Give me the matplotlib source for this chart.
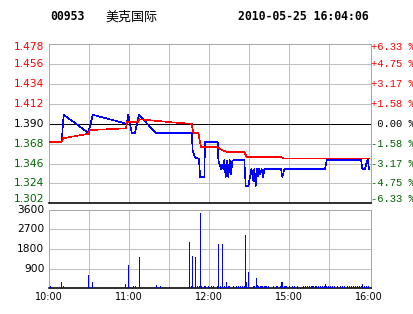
import matplotlib
matplotlib.use("Agg")
import matplotlib.pyplot as plt
from matplotlib.transforms import blended_transform_factory, ScaledTranslation

# ---------------- data ----------------
stock_code = "00953"
stock_name = "美克国际"
stamp = "2010-05-25 16:04:06"
prev_close = 1.390

price_ticks = [1.478, 1.456, 1.434, 1.412, 1.390, 1.368, 1.346, 1.324, 1.302]
pct_labels = ["+6.33 %", "+4.75 %", "+3.17 %", "+1.58 %", " 0.00 %",
              "-1.58 %", "-3.17 %", "-4.75 %", "-6.33 %"]
vol_ticks = [900, 1800, 2700, 3600]
vol_labels = ["900", "1800", "2700", "3600"]
time_pos = [0, 60, 120, 180, 240]
time_labels = ["10:00", "11:00", "12:00", "15:00", "16:00"]

# minutes of trading since 10:00 (12:30-14:30 lunch removed)
price_t = [0, 9.5, 11, 29.5, 32.8, 58.3, 59.5, 62, 64.5, 67.5, 80, 107, 107.8,
           109.5, 112.5, 113.3, 116.5, 117, 126.5, 127, 129, 130, 130.8, 131.5,
           132.5, 133.5, 134.5, 135.5, 136.5, 137.5, 138.5, 146.5, 147.5, 149.5,
           150.7, 151.8, 153.2, 154, 155, 155.8, 156.5, 157.5, 158.5, 159.5,
           160.7, 161.5, 174, 175, 176.5, 207, 208.3, 234, 235, 237, 238.5,
           239.2, 240]
price_v = [1.370, 1.370, 1.400, 1.380, 1.400, 1.390, 1.400, 1.380, 1.380, 1.400,
           1.380, 1.380, 1.360, 1.353, 1.351, 1.331, 1.331, 1.370, 1.370, 1.350,
           1.340, 1.345, 1.340, 1.350, 1.331, 1.349, 1.331, 1.350, 1.334, 1.349,
           1.350, 1.350, 1.321, 1.321, 1.331, 1.340, 1.327, 1.340, 1.321, 1.340,
           1.332, 1.340, 1.334, 1.340, 1.331, 1.340, 1.340, 1.331, 1.340, 1.340,
           1.350, 1.350, 1.340, 1.340, 1.349, 1.350, 1.340]

avg_t = [0, 9.5, 10.5, 30, 30.4, 57.7, 58.5, 66.5, 68, 89.5, 97, 107, 108.2,
         112, 114, 126.5, 129.5, 133.3, 146.5, 148.3, 174, 176.5, 240]
avg_v = [1.370, 1.370, 1.374, 1.379, 1.383, 1.385, 1.392, 1.392, 1.395, 1.392,
         1.391, 1.390, 1.380, 1.380, 1.364, 1.364, 1.361, 1.359, 1.359, 1.353,
         1.353, 1.3515, 1.3515]

vol_t = [0.75, 9.2, 10.7, 29.5, 32.5, 57.2, 59.5, 63.2, 64.7, 67.7, 80.5, 83.5,
         105.2, 106.7, 107.5, 109.7, 111.2, 112.7, 113.5, 114.2, 116.5, 117.2,
         119.5, 121.7, 123.2, 126, 127, 128.5, 130, 131.5, 133, 134.5, 135, 138,
         140, 141.5, 143.5, 145, 146.5, 147.2, 148, 149.5, 153.2, 154, 155.5,
         156.2, 157, 158, 159, 160, 161, 162, 163, 164, 168.2, 170.5, 171.2,
         173.5, 174.2, 175, 176.5, 177.2, 178, 180.2, 182.5, 184, 186.2, 190.7,
         192.2, 193.7, 195.2, 196.7, 197.5, 198.2, 199.7, 200.5, 202, 203.5,
         205, 206.5, 207.2, 208, 209.5, 211, 212.5, 214, 216.2, 218.5, 220,
         221.5, 223.7, 225.2, 226.7, 228.2, 229.7, 231.2, 232.7, 234.2, 235,
         236.5, 238, 239.5]
vol_v = [100, 290, 100, 610, 290, 200, 1060, 100, 100, 1430, 150, 100,
         2110, 100, 1470, 1430, 100, 100, 3430, 100, 100, 100,
         100, 100, 100, 100, 2020, 100, 2020, 100, 290, 100, 100, 100,
         100, 100, 100, 100, 100, 2430, 290, 740, 100, 100, 470,
         150, 100, 100, 100, 100, 100, 100, 100, 100, 100, 100, 100,
         100, 290, 290, 100, 100, 100, 100, 100, 100, 100, 100,
         100, 100, 100, 100, 100, 100, 100, 100, 100, 100,
         100, 100, 200, 100, 100, 100, 100, 100, 100, 100, 100,
         100, 100, 100, 100, 100, 100, 100, 100, 100, 200,
         100, 100, 100]

# ---------------- styling ----------------
W, H = 414, 314
RED = "#ff0000"
GREEN = "#006400"
GRID = "#c0c0c0"
SPINE = "#a8a8a8"
PX = 72 / 100.0  # one pixel in points
THIN = PX * 0.8
DATA_LW = PX * 0.6

fig = plt.figure(figsize=(W / 100, H / 100), dpi=100)
fig.patch.set_facecolor("white")

def fx(px):
    return px / W

def fy(py):
    return 1 - py / H

left_px, right_px = 49, 371
p_top, p_bot = 44.3, 203.3
v_top, v_bot = 209.7, 288.3

axp = fig.add_axes([fx(left_px), fy(p_bot), (right_px - left_px) / W, (p_bot - p_top) / H])
axv = fig.add_axes([fx(left_px), fy(v_bot), (right_px - left_px) / W, (v_bot - v_top) / H])

XMAX = 241.5
for ax in (axp, axv):
    ax.set_xlim(0, XMAX)
    ax.set_xticks([])
    ax.set_yticks([])
    for m in range(30, 240, 30):
        ax.axvline(m, color=GRID, lw=THIN, zorder=1, antialiased=False)
    for s in ("left", "top", "right"):
        ax.spines[s].set_color(SPINE)
        ax.spines[s].set_linewidth(THIN)
        ax.spines[s].set_antialiased(False)
    ax.spines["bottom"].set_color("black")
    ax.spines["bottom"].set_linewidth(PX * 1.6)

# price panel
axp.set_ylim(price_ticks[-1], price_ticks[0])
for v in price_ticks[1:-1]:
    if abs(v - prev_close) < 1e-9:
        axp.axhline(v, color="black", lw=THIN, zorder=2, antialiased=False)
    else:
        axp.axhline(v, color=GRID, lw=THIN, zorder=1, antialiased=False)

axp.plot(price_t, price_v, color="#0000ff", lw=DATA_LW, zorder=3, antialiased=False)
axp.plot(avg_t, avg_v, color=RED, lw=DATA_LW, zorder=4, antialiased=False)

trl = blended_transform_factory(axp.transAxes, axp.transData)
n = len(price_ticks)
for i, (v, pl) in enumerate(zip(price_ticks, pct_labels)):
    if v > prev_close + 1e-9:
        col = RED
    elif v < prev_close - 1e-9:
        col = GREEN
    else:
        col = "black"
    dy = 0
    if i == 0:
        dy = -3 / 100
    elif i == n - 1:
        dy = 4 / 100
    off = ScaledTranslation(0, dy, fig.dpi_scale_trans)
    axp.text(-4.5 / 322, v, f"{v:.3f}", transform=trl + off, ha="right", va="center",
             color=col, fontsize=7.7, family="DejaVu Sans")
    axp.text(1 + 0.5 / 322, v, pl, transform=trl + off, ha="left", va="center",
             color=col, fontsize=7.6, family="Liberation Mono", clip_on=False)

# volume panel
axv.set_ylim(0, vol_ticks[-1])
for v in vol_ticks[:-1]:
    axv.axhline(v, color=GRID, lw=THIN, zorder=1, antialiased=False)
axv.vlines(vol_t, 0, vol_v, colors="#0000ff", lw=PX * 0.9, zorder=3, antialiased=False)
trv = blended_transform_factory(axv.transAxes, axv.transData)
for v, lab in zip(vol_ticks, vol_labels):
    axv.text(-4.5 / 322, v, lab, transform=trv, ha="right", va="center",
             color="black", fontsize=7.7, family="DejaVu Sans")

trt = blended_transform_factory(axv.transData, axv.transAxes)
for t, lab in zip(time_pos, time_labels):
    axv.text(t, -9 / 78.6, lab, transform=trt, ha="center", va="center",
             color="black", fontsize=7.0, family="DejaVu Sans", clip_on=False)

# header
fig.text(fx(50), fy(17), stock_code, ha="left", va="center", fontsize=8.3,
         family="DejaVu Sans Mono", weight="bold", color="black")
fig.text(fx(105), fy(17), stock_name, ha="left", va="center", fontsize=9.4,
         family=["Noto Sans CJK SC", "DejaVu Sans"], color="black")
fig.text(fx(238), fy(17), stamp, ha="left", va="center", fontsize=8.3,
         family="DejaVu Sans Mono", weight="bold", color="black")

fig.savefig("out.png", dpi=100)
